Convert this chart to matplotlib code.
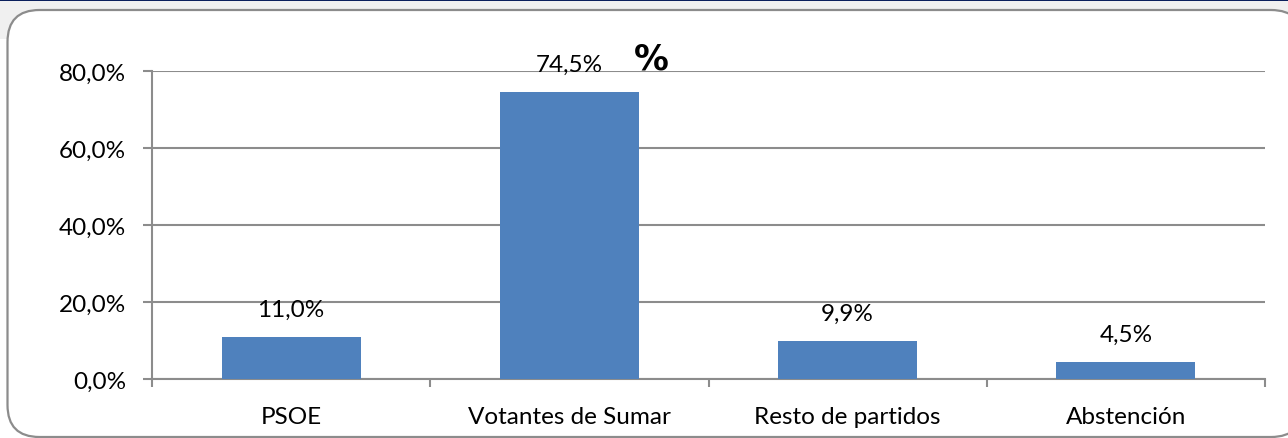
import matplotlib
matplotlib.use("Agg")
import matplotlib.pyplot as plt
from matplotlib.patches import FancyBboxPatch, Rectangle
from matplotlib.ticker import FuncFormatter, FixedLocator

categories = ["PSOE", "Votantes de Sumar", "Resto de partidos", "Abstención"]
values = [11.0, 74.5, 9.9, 4.5]
yticks = [0, 20, 40, 60, 80]

plt.rcParams['font.family'] = ['Lato', 'DejaVu Sans']

W, H = 1288, 439
fig = plt.figure(figsize=(W / 100, H / 100), dpi=100)
fig.patch.set_facecolor('white')

# background decorations
fig.patches.append(Rectangle((0, 1 - 40 / H), 1, 40 / H, transform=fig.transFigure,
                             facecolor='#f0f0f0', edgecolor='none', zorder=-3))
fig.patches.append(Rectangle((0, 1 - 2 / H), 1, 2 / H, transform=fig.transFigure,
                             facecolor='#0a1f5c', edgecolor='none', zorder=-2))
box = FancyBboxPatch((7.5, 1), 1303 - 7.5, H - 11 - 1,
                     boxstyle="round,pad=0,rounding_size=32",
                     transform=None, facecolor='white', edgecolor='#8c8c8c',
                     linewidth=1.6, zorder=-1)
fig.patches.append(box)

ax = fig.add_axes([152 / W, 59 / H, (1265 - 152) / W, 308 / H])
ax.set_facecolor('none')
x = list(range(len(categories)))
ax.bar(x, values, width=0.5, color='#4f81bd', zorder=3)
ax.set_xlim(-0.5, len(categories) - 0.5)
ax.set_ylim(0, 80)

ax.set_yticks(yticks)
ax.yaxis.set_major_formatter(FuncFormatter(lambda v, p: f"{v:.1f}%".replace('.', ',')))
ax.grid(axis='y', color='#8c8c8c', linewidth=1.5, zorder=1)
ax.set_axisbelow(True)

FS = 17.5
ax.set_xticks(x)
ax.set_xticklabels(categories)
ax.xaxis.set_minor_locator(FixedLocator([i - 0.5 for i in range(len(categories) + 1)]))
ax.tick_params(axis='x', which='major', length=0, pad=19.5, labelsize=FS)
ax.tick_params(axis='x', which='minor', length=6, width=1.5, color='#8c8c8c')
ax.tick_params(axis='y', length=6.5, width=1.5, color='#8c8c8c', pad=12, labelsize=FS)

for s in ['top', 'right']:
    ax.spines[s].set_visible(False)
for s in ['left', 'bottom']:
    ax.spines[s].set_color('#8c8c8c')
    ax.spines[s].set_linewidth(1.5)

for xi, v in zip(x, values):
    ax.annotate(f"{v:.1f}%".replace('.', ','), (xi, v), xytext=(0, 20),
                textcoords='offset points', ha='center', va='center', fontsize=FS)

fig.text(651 / W, 1 - 60 / H, "%", fontsize=25, fontweight='bold',
         family=['DejaVu Sans'], ha='center', va='center')

fig.savefig("out.png", dpi=100)
